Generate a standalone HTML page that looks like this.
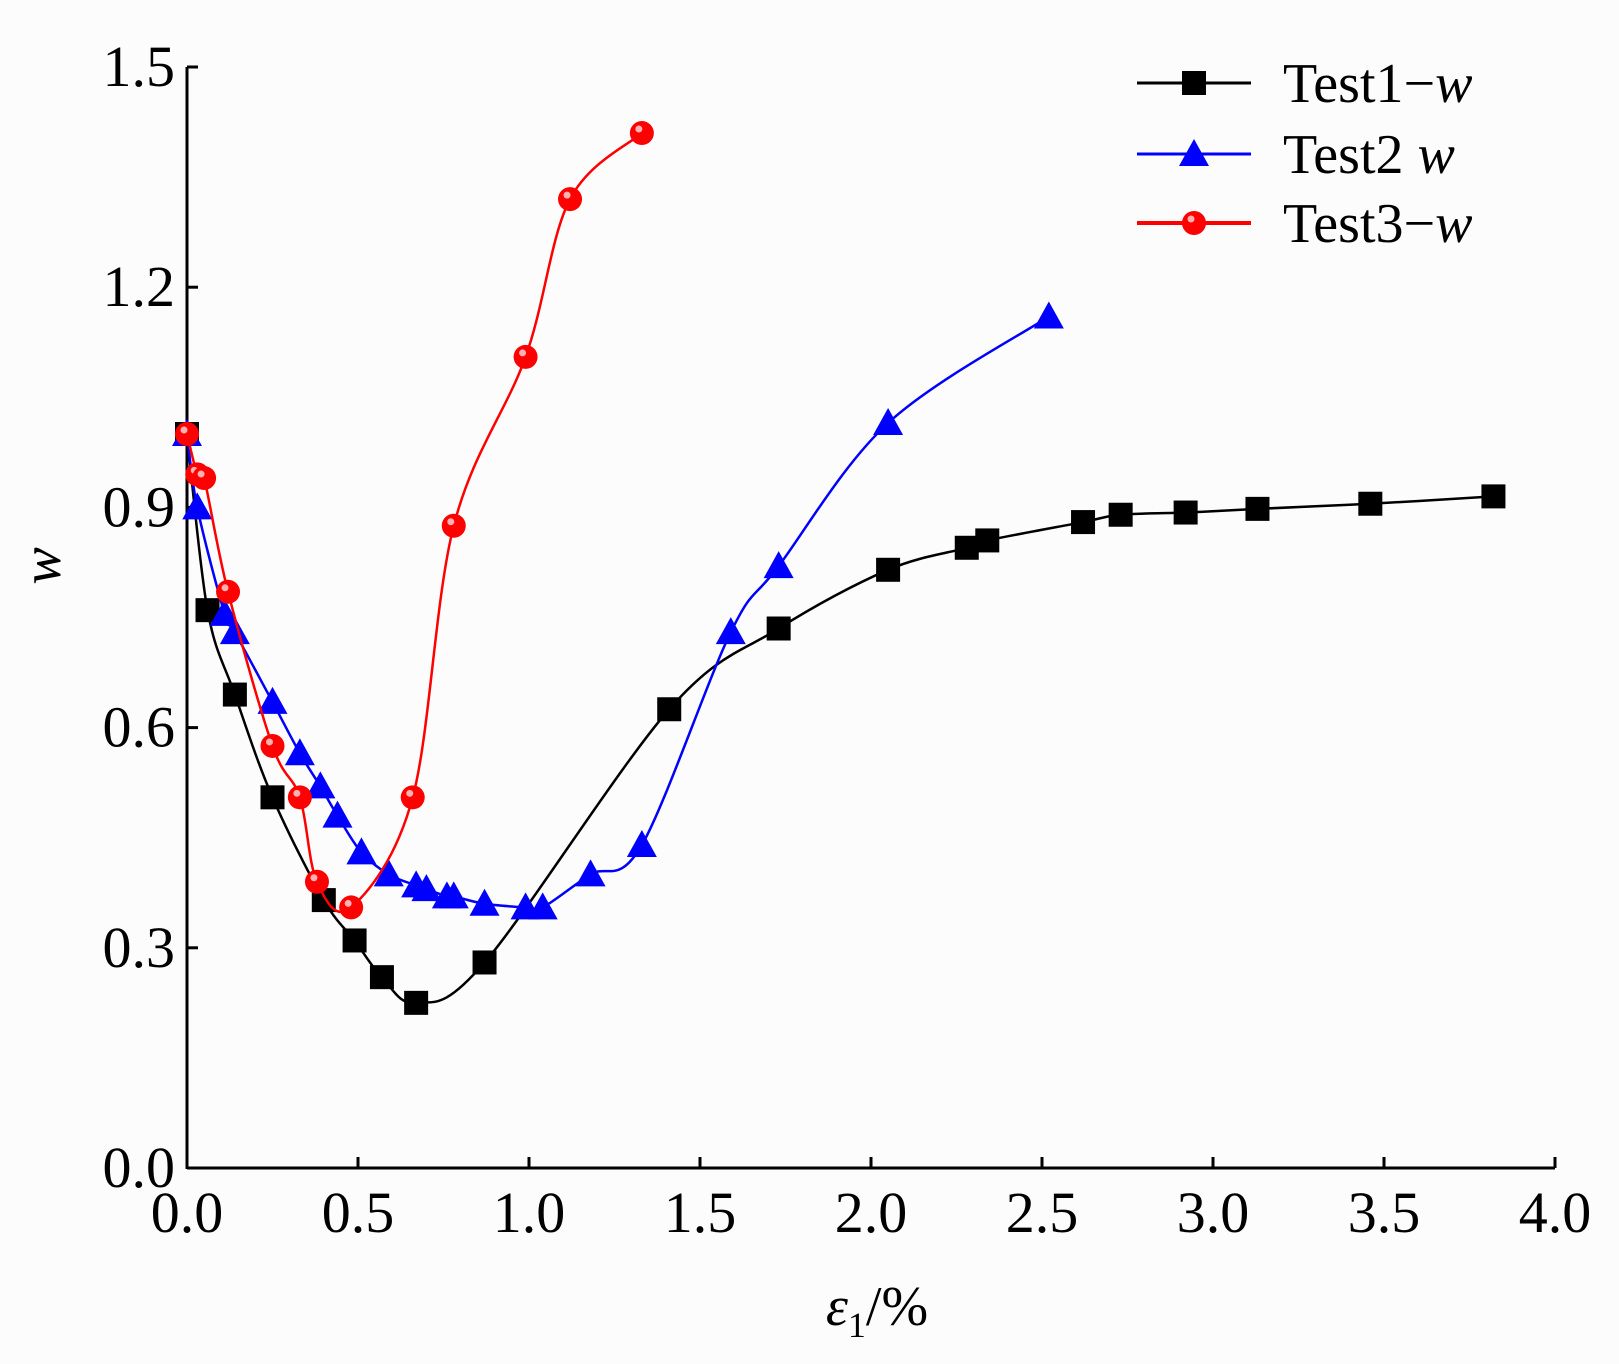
<!DOCTYPE html>
<html><head><meta charset="utf-8"><style>
html,body{margin:0;padding:0;background:#fff;}
svg{display:block;}
text{font-family:"Liberation Serif",serif;fill:#000;}
</style></head><body>
<svg id="chart" width="1619" height="1364" viewBox="0 0 1619 1364" xmlns="http://www.w3.org/2000/svg">
<rect x="0" y="0" width="1619" height="1364" fill="#fcfcfc"/>
<g id="axes"></g>
<g id="series"></g>
<g id="legend"></g>
</svg>
<script>
const xTicks = [0.0,0.5,1.0,1.5,2.0,2.5,3.0,3.5,4.0];
const xTickLabels = ["0.0","0.5","1.0","1.5","2.0","2.5","3.0","3.5","4.0"];
const yTicks = [0.0,0.3,0.6,0.9,1.2,1.5];
const yTickLabels = ["0.0","0.3","0.6","0.9","1.2","1.5"];
const seriesNames = ["Test1-w","Test2-w","Test3-w"];
const t1x = [0,0.06,0.14,0.25,0.40,0.49,0.57,0.67,0.87,1.41,1.73,2.05,2.28,2.34,2.62,2.73,2.92,3.13,3.46,3.82];
const t1y = [1.0,0.76,0.645,0.505,0.365,0.31,0.26,0.225,0.28,0.625,0.735,0.815,0.845,0.855,0.88,0.89,0.893,0.898,0.905,0.915];
const t2x = [0,0.03,0.11,0.14,0.25,0.33,0.39,0.44,0.51,0.59,0.67,0.70,0.76,0.78,0.87,0.99,1.04,1.18,1.33,1.59,1.73,2.05,2.52];
const t2y = [1.0,0.9,0.755,0.73,0.635,0.565,0.52,0.48,0.43,0.40,0.385,0.38,0.37,0.37,0.36,0.355,0.355,0.40,0.44,0.73,0.82,1.015,1.16];
const t3x = [0,0.03,0.05,0.12,0.25,0.33,0.38,0.48,0.66,0.78,0.99,1.12,1.33];
const t3y = [1.0,0.945,0.94,0.785,0.575,0.505,0.39,0.355,0.505,0.875,1.105,1.32,1.41];

const NS="http://www.w3.org/2000/svg";
const X0=187,X1=1555,Y0=1168,Y1=67;
const sx=v=>X0+(v-0)/(4-0)*(X1-X0);
const sy=v=>Y0-(v-0)/(1.5-0)*(Y0-Y1);
function mk(tag,attrs,parent){const e=document.createElementNS(NS,tag);for(const k in attrs)e.setAttribute(k,attrs[k]);parent.appendChild(e);return e;}
const axes=document.getElementById('axes');
let e;
e=mk('line',{x1:X0,y1:Y0,x2:X1,y2:Y0,stroke:'#000','stroke-width':3},axes);


e=mk('line',{x1:X0,y1:Y0+1,x2:X0,y2:Y1,stroke:'#000','stroke-width':3},axes);


xTicks.forEach((v,i)=>{
  let t=mk('line',{x1:sx(v),y1:Y0,x2:sx(v),y2:Y0-11,stroke:'#000','stroke-width':3},axes);
  
  
  let l=mk('text',{x:sx(v),y:Y0+64,'text-anchor':'middle','font-size':58},axes);
  l.textContent=xTickLabels[i];
  
  
});
yTicks.forEach((v,i)=>{
  let t=mk('line',{x1:X0,y1:sy(v),x2:X0+11,y2:sy(v),stroke:'#000','stroke-width':3},axes);
  
  
  let l=mk('text',{x:X0-12,y:sy(v)+19,'text-anchor':'end','font-size':58},axes);
  l.textContent=yTickLabels[i];
  
  
});
let xl=mk('text',{x:877,y:1325,'text-anchor':'middle','font-size':56},axes);
xl.innerHTML='<tspan font-style="italic">ε</tspan><tspan font-size="36" dy="12">1</tspan><tspan dy="-12">/%</tspan>';


let yl=mk('text',{x:0,y:0,'text-anchor':'middle','font-size':56,'font-style':'italic',transform:'translate(60,566) rotate(-90)'},axes);
yl.textContent='w';



function smoothPath(xs,ys){
  const p=xs.map((x,i)=>[sx(x),sy(ys[i])]);
  let d='M'+p[0][0]+','+p[0][1];
  for(let i=0;i<p.length-1;i++){
    const a=p[Math.max(i-1,0)],b=p[i],c=p[i+1],f=p[Math.min(i+2,p.length-1)];
    const c1=[b[0]+(c[0]-a[0])/6,b[1]+(c[1]-a[1])/6];
    const c2=[c[0]-(f[0]-b[0])/6,c[1]-(f[1]-b[1])/6];
    d+=' C'+c1[0]+','+c1[1]+' '+c2[0]+','+c2[1]+' '+c[0]+','+c[1];
  }
  return d;
}
function marker(g,type,cx,cy,color){
  let m;
  if(type==='square') m=mk('rect',{x:cx-12,y:cy-12,width:24,height:24,fill:color},g);
  else if(type==='tri') m=mk('polygon',{points:`${cx},${cy-15} ${cx-15},${cy+12} ${cx+15},${cy+12}`,fill:color},g);
  else { m=mk('circle',{cx:cx,cy:cy,r:12,fill:color},g); mk('circle',{cx:cx-3,cy:cy-4,r:3.5,fill:'#ffb0b0'},g); }
  return m;
}
const series=document.getElementById('series');
const defs=[[t1x,t1y,'#000','square','test1'],[t2x,t2y,'#0000ff','tri','test2'],[t3x,t3y,'#ff0000','circle','test3']];
defs.forEach(([xs,ys,col,type,nm])=>{
  const g=mk('g',{},series);
  
  
  const path=mk('path',{d:smoothPath(xs,ys),fill:'none',stroke:col,'stroke-width':2.5},g);
  
  
  xs.forEach((x,i)=>{
    const m=marker(g,type,sx(x),sy(ys[i]),col);
    
    
  });
});
const legend=document.getElementById('legend');
const legY=[83,154,223];
defs.forEach(([xs,ys,col,type,nm],i)=>{
  const g=mk('g',{},legend);
  
  
  mk('line',{x1:1137,y1:legY[i],x2:1251,y2:legY[i],stroke:col,'stroke-width':i===2?4:3},g);
  marker(g,type,1194,legY[i],col);
  const t=mk('text',{x:1283,y:legY[i]+19,'font-size':56},g);
  const parts=[['Test1','−'],['Test2',' '],['Test3','−']][i];
  t.innerHTML=parts[0]+'<tspan>'+parts[1]+'</tspan><tspan font-style="italic">w</tspan>';
});
</script>
</body></html>
